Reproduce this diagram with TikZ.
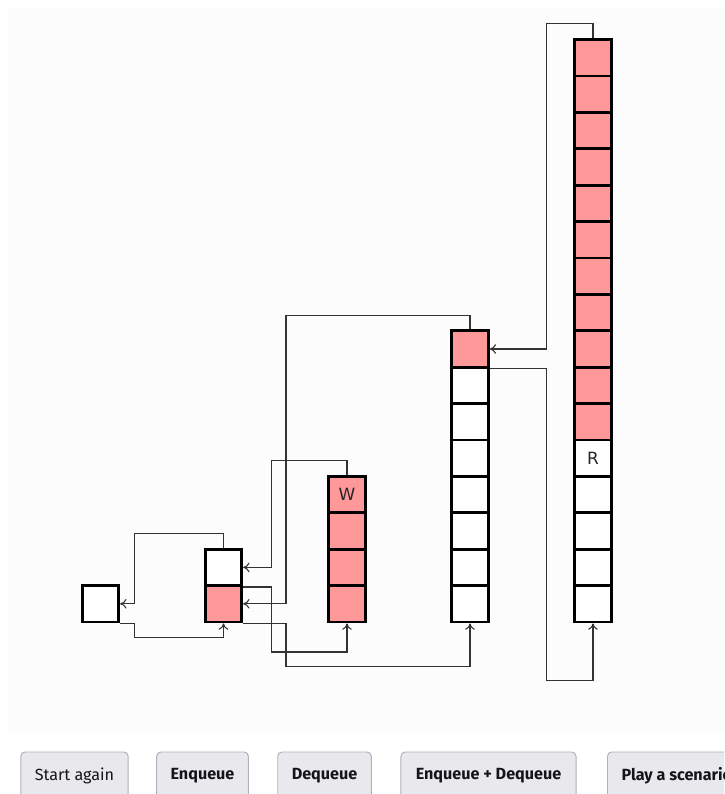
\documentclass[tikz,border=0pt]{standalone}
\usepackage{fontspec}
\usepackage{tikz}
\usetikzlibrary{arrows.meta, calc}
\newfontfamily\cellfont{DejaVu Sans}
\newfontfamily\buttonfont{Fira Sans}
\definecolor{cellred}{RGB}{255,153,153}
\definecolor{canvasbg}{RGB}{252,252,252}
\definecolor{buttonbg}{RGB}{233,233,237}
\definecolor{buttonline}{RGB}{176,176,186}
\definecolor{buttontext}{RGB}{21,20,26}
\tikzset{
  qa cell/.style={
    rectangle, draw=black, fill=white, line width=2pt,
    minimum size=0.91cm, inner sep=0pt, outer sep=1pt,
    font=\cellfont\large, text=black!85
  },
  qa full/.style={
    qa cell, fill=cellred
  },
  qa link/.style={
    -{To[length=1.6mm, width=2.4mm]}, line width=0.75pt, draw=black!80
  },
  qa button/.style={
    rectangle, rounded corners=3pt, draw=buttonline, fill=buttonbg,
    line width=0.7pt, minimum height=1.2cm, inner xsep=0.35cm,
    font=\buttonfont\fontsize{11.5}{14}\selectfont\bfseries, text=buttontext
  }
}

\begin{document}
\begin{tikzpicture}[x=0.025cm, y=-0.025cm]
  \useasboundingbox (0,0) rectangle (724,794);
  \clip (0,0) rectangle (724,794);
  \fill[canvasbg] (8,8) rectangle (724,733);

  % arrays stand on one base line; cell 0 is the top one
  \def\pitch{36.4}
  \def\base{622}
  \def\lv{14.3}

  \node[qa cell] (b1-0) at (100.5, {\base-\pitch*0.5}) {};

  \node[qa cell] (b2-0) at (223.5, {\base-\pitch*1.5}) {};
  \node[qa full] (b2-1) at (223.5, {\base-\pitch*0.5}) {};

  \foreach \i in {0,...,3}
    \node[qa full] (b3-\i) at (347, {\base-\pitch*(3.5-\i)}) {\ifnum\i=0 W\fi};

  \node[qa full] (b4-0) at (470, {\base-\pitch*7.5}) {};
  \foreach \i in {1,...,7}
    \node[qa cell] (b4-\i) at (470, {\base-\pitch*(7.5-\i)}) {};

  \foreach \i in {0,...,10}
    \node[qa full] (b5-\i) at (593, {\base-\pitch*(15.5-\i)}) {};
  \foreach \i in {11,...,15}
    \node[qa cell] (b5-\i) at (593, {\base-\pitch*(15.5-\i)}) {\ifnum\i=11 R\fi};

  % links between the arrays
  \draw[qa link] (b2-0.north) -- ++(0,-\lv) -| ($(b1-0.east)+(\lv,0)$) -- (b1-0.east);
  \draw[qa link] (b1-0.south east) -- ++(\lv,0) |- ($(b2-1.south)+(0,\lv)$) -- (b2-1.south);
  \draw[qa link] (b3-0.north) -- ++(0,-\lv) -| ($(b2-0.east)+(2*\lv,0)$) -- (b2-0.east);
  \draw[qa link] (b2-0.south east) -- ++(2*\lv,0) |- ($(b3-3.south)+(0,2*\lv)$) -- (b3-3.south);
  \draw[qa link] (b4-0.north) -- ++(0,-\lv) -| ($(b2-1.east)+(3*\lv,0)$) -- (b2-1.east);
  \draw[qa link] (b2-1.south east) -- ++(3*\lv,0) |- ($(b4-7.south)+(0,3*\lv)$) -- (b4-7.south);
  \draw[qa link] (b5-0.north) -- ++(0,-\lv) -| ($(b4-0.east)+(4*\lv,0)$) -- (b4-0.east);
  \draw[qa link] (b4-0.south east) -- ++(4*\lv,0) |- ($(b5-15.south)+(0,4*\lv)$) -- (b5-15.south);

  % buttons
  \node[qa button, font=\buttonfont\fontsize{11.5}{14}\selectfont, minimum width=2.625cm] (again) at (74.5,776) {Start again};
  \node[qa button, minimum width=2.275cm] (enq) at (202.5,776) {Enqueue};
  \node[qa button, minimum width=2.325cm] (deq) at (324.5,776) {Dequeue};
  \node[qa button, minimum width=4.375cm] (both) at (488.5,776) {Enqueue + Dequeue};
  \node[qa button, anchor=west] (play) at (607,776) {Play a scenario};
\end{tikzpicture}
\end{document}
